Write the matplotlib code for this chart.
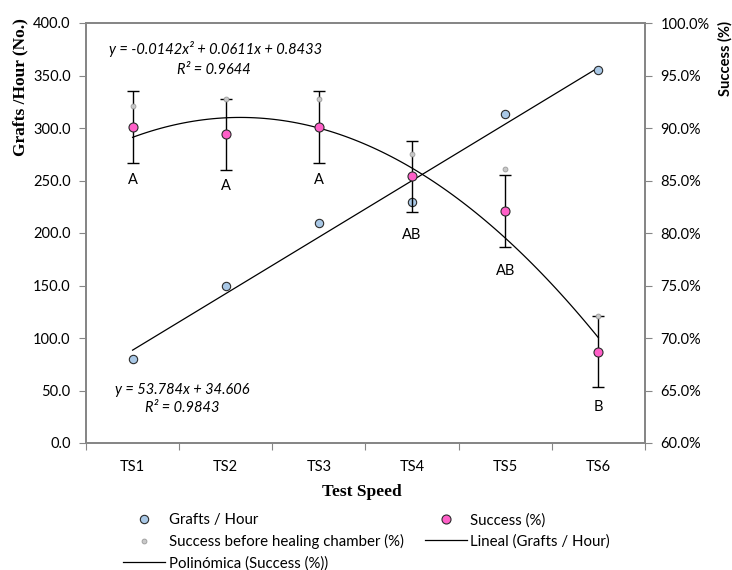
import numpy as np
import matplotlib
matplotlib.use("Agg")
import matplotlib.pyplot as plt
from matplotlib.ticker import PercentFormatter, FixedLocator, NullFormatter

# Datos
velocidades = ["TS1", "TS2", "TS3", "TS4", "TS5", "TS6"]
injertos_hora = [80, 150, 210, 230, 313, 355]
exito = [0.901, 0.894, 0.901, 0.854, 0.821, 0.687]
exito_err = [0.034, 0.034, 0.034, 0.034, 0.034, 0.034]
exito_antes_camara = [0.921, 0.928, 0.928, 0.875, 0.861, 0.721]
letras = ["A", "A", "A", "AB", "AB", "B"]

ec_lineal = "y = 53.784x + 34.606"
r2_lineal = "R² = 0.9843"
ec_poli = "y = -0.0142x² + 0.0611x + 0.8433"
r2_poli = "R² = 0.9644"

plt.rcParams["font.family"] = ["Lato", "DejaVu Sans"]
gris = "#868686"

fig = plt.figure(figsize=(7.32, 5.70), dpi=100)
ax1 = fig.add_axes([86 / 732, 127 / 570, 559 / 732, 420 / 570])
ax2 = ax1.twinx()

x = np.arange(len(velocidades))
xf = x + 1  # Excel usa 1..6 para las líneas de tendencia

# Líneas de tendencia
coef_lin = np.polyfit(xf, injertos_hora, 1)
coef_pol = np.polyfit(xf, exito, 2)
xs = np.linspace(1, 6, 100)
ax1.plot(xs - 1, np.polyval(coef_lin, xs), color="black", lw=0.9, zorder=2)
ax2.plot(xs - 1, np.polyval(coef_pol, xs), color="black", lw=0.9, zorder=2)

# Series
h_inj, = ax1.plot(x, injertos_hora, "o", ms=6, mfc="#A9C8E6", mec="#2b2b2b",
                  mew=0.8, zorder=3)
ax2.errorbar(x, exito, yerr=exito_err, fmt="none", ecolor="black",
             elinewidth=1, capsize=4, capthick=1, zorder=3)
h_antes, = ax2.plot(x, exito_antes_camara, "o", ms=3.5, mfc="#C8C8C8",
                    mec="#9a9a9a", mew=0.6, zorder=4)
h_exito, = ax2.plot(x, exito, "o", ms=6.5, mfc="#FF5FC8", mec="#2b2b2b",
                    mew=0.8, zorder=5)

# Letras de significancia debajo de las barras de error
desp = [-17, -16, -17, -23, -24, -20]
for i, letra in enumerate(letras):
    ax2.annotate(letra, (x[i], exito[i] - exito_err[i]), xytext=(0, desp[i]),
                 textcoords="offset pixels", ha="center", va="center",
                 fontsize=10.5)

# Ejes
ax1.set_xlim(-0.5, len(velocidades) - 0.5)
ax1.set_ylim(0, 400)
ax1.set_yticks(np.arange(0, 401, 50))
ax1.set_yticklabels([f"{v:.1f}" for v in np.arange(0, 401, 50)])
ax2.set_ylim(0.60, 1.00)
ax2.set_yticks(np.arange(0.60, 1.001, 0.05))
ax2.yaxis.set_major_formatter(PercentFormatter(1.0, decimals=1))

ax1.xaxis.set_major_locator(FixedLocator(np.arange(-0.5, len(velocidades), 1)))
ax1.xaxis.set_major_formatter(NullFormatter())
ax1.xaxis.set_minor_locator(FixedLocator(x))
ax1.set_xticklabels(velocidades, minor=True)
ax1.tick_params(axis="x", which="minor", length=0, pad=12, labelsize=10.5)
ax1.tick_params(axis="x", which="major", length=5, color=gris)
ax1.tick_params(axis="y", length=5, color=gris, labelsize=10.5, pad=6)
ax2.tick_params(axis="y", length=5, color=gris, labelsize=10.5, pad=6)

for ax in (ax1, ax2):
    for s in ax.spines.values():
        s.set_color(gris)
        s.set_linewidth(1.3)

# Ecuaciones
ax1.text(0.231, 0.938, ec_poli, transform=ax1.transAxes, ha="center",
         va="center", style="italic", fontsize=10.5)
ax1.text(0.229, 0.888, r2_poli, transform=ax1.transAxes, ha="center",
         va="center", style="italic", fontsize=10.5)
ax1.text(0.172, 0.126, ec_lineal, transform=ax1.transAxes, ha="center",
         va="center", style="italic", fontsize=10.5)
ax1.text(0.172, 0.083, r2_lineal, transform=ax1.transAxes, ha="center",
         va="center", style="italic", fontsize=10.5)

# Títulos de ejes
fig.text(362 / 732, 1 - 492 / 570, "Test Speed", ha="center", va="center",
         family="Liberation Serif", weight="bold", fontsize=12.5)
fig.text(20 / 732, 1 - 87 / 570, "Grafts /Hour (No.)", ha="center", va="center",
         rotation=90, family="Liberation Serif", weight="bold", fontsize=12.5)
fig.text(725 / 732, 1 - 59 / 570, "Success (%)", ha="center", va="center",
         rotation=90, weight="bold", fontsize=10.5)

# Leyenda
h_lin = plt.Line2D([], [], color="black", lw=0.9)
h_pol = plt.Line2D([], [], color="black", lw=0.9)
fig.legend([h_inj, h_antes, h_pol, h_exito, h_lin],
           ["Grafts / Hour", "Success before healing chamber (%)",
            "Polinómica (Success (%))", "Success (%)", "Lineal (Grafts / Hour)"],
           ncol=2, loc="upper left", bbox_to_anchor=(123 / 732, 1 - 513 / 570),
           frameon=False, fontsize=10.8, borderpad=0, borderaxespad=0,
           handlelength=2.8, handletextpad=0.25, labelspacing=0.45,
           columnspacing=1.4)

fig.savefig("out.png", dpi=100)
